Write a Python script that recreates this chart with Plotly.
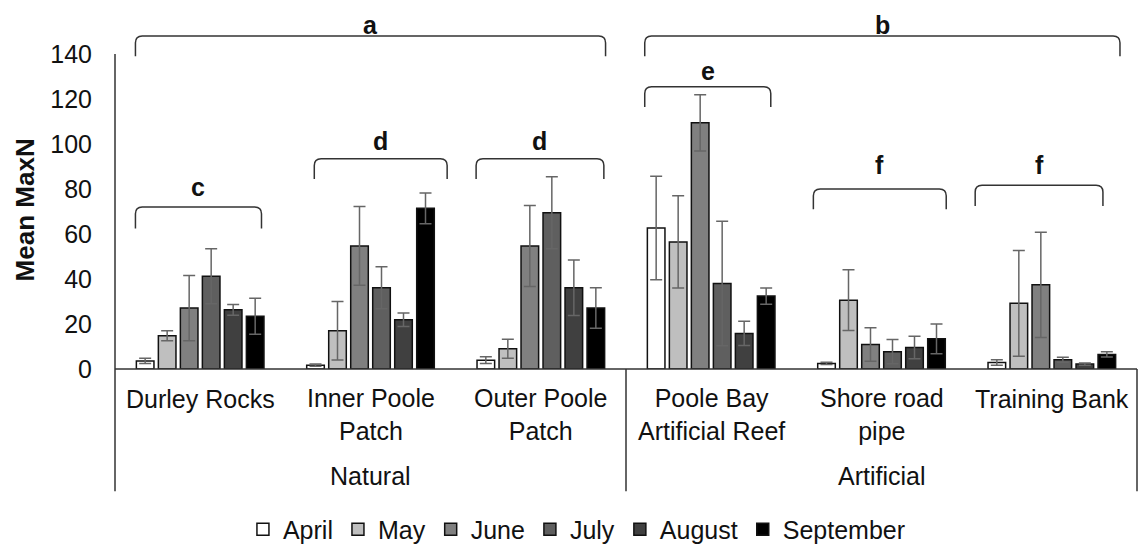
import plotly.graph_objects as go

sites = ["Durley Rocks", "Inner Poole<br>Patch", "Outer Poole<br>Patch",
         "Poole Bay<br>Artificial Reef", "Shore road<br>pipe", "Training Bank"]
groups = ["Natural", "Artificial"]
group_centers = [1, 4]
months = ["April", "May", "June", "July", "August", "September"]
colors = ["#ffffff", "#bfbfbf", "#808080", "#5f5f5f", "#404040", "#000000"]

april = [3.6, 1.7, 3.9, 62.7, 2.5, 2.9]
may = [14.8, 17.0, 9.0, 56.5, 30.6, 29.2]
june = [27.1, 54.7, 54.7, 109.4, 10.9, 37.4]
july = [41.2, 36.1, 69.5, 38.0, 7.7, 4.1]
august = [26.3, 21.9, 36.1, 15.8, 9.6, 2.2]
september = [23.4, 71.4, 27.1, 32.4, 13.4, 6.5]

april_err = [1.2, 0.5, 1.5, 23.0, 0.5, 1.2]
may_err = [2.2, 13.0, 4.2, 20.5, 13.5, 23.5]
june_err = [14.5, 17.5, 18.0, 12.5, 7.4, 23.4]
july_err = [12.2, 9.3, 16.0, 27.7, 5.4, 1.1]
august_err = [2.4, 3.0, 12.3, 5.4, 5.0, 0.5]
september_err = [8.0, 6.8, 9.0, 3.6, 6.6, 1.2]

values = [april, may, june, july, august, september]
errors = [april_err, may_err, june_err, july_err, august_err, september_err]

# brackets: (label, x start, x end, y top, y end-bottom, label y)
brackets = [
    ("a", -0.38, 2.38, 148, 139, 153),
    ("b", 2.61, 5.40, 148, 139, 153),
    ("c", -0.38, 0.36, 72, 62.5, 81),
    ("d", 0.67, 1.45, 93.5, 84.5, 101.5),
    ("d", 1.62, 2.37, 93.5, 84.5, 101.5),
    ("e", 2.61, 3.35, 125.5, 116.5, 132.5),
    ("f", 3.60, 4.38, 80, 71, 90.5),
    ("f", 4.55, 5.30, 81.7, 72.5, 90.5),
]

FONT = "Liberation Sans, Arial, sans-serif"
FS = 25
x = list(range(len(sites)))

# pixel helpers for layout below the plot area (plot area: y 9..377 px)
PLOT_TOP, PLOT_BOTTOM = 9, 377
def py(p):
    return (PLOT_BOTTOM - p) / (PLOT_BOTTOM - PLOT_TOP)

fig = go.Figure()
for m, c, v, e in zip(months, colors, values, errors):
    fig.add_trace(go.Bar(
        x=x, y=v, name=m,
        marker=dict(color=c, line=dict(color="#111111", width=1.5)),
        error_y=dict(type="data", array=e, visible=True, color="#666666",
                     thickness=1.5, width=6),
    ))

shapes = []
annotations = []
for lab, x0, x1, yt, yb, yl in brackets:
    rx = 0.04
    ry = 3
    path = (f"M {x0},{yb} L {x0},{yt - ry} Q {x0},{yt} {x0 + rx},{yt} "
            f"L {x1 - rx},{yt} Q {x1},{yt} {x1},{yt - ry} L {x1},{yb}")
    shapes.append(dict(type="path", path=path, xref="x", yref="y",
                       line=dict(color="#333333", width=1.5)))
    annotations.append(dict(x=(x0 + x1) / 2, y=yl, xref="x", yref="y",
                            text=f"<b>{lab}</b>", showarrow=False,
                            font=dict(size=FS, color="#111111", family=FONT)))

LINE = dict(color="#333333", width=1.5)
# y axis line (0..140) continuing down as the left separator
shapes.append(dict(type="line", xref="paper", yref="paper", x0=0, x1=0,
                   y0=140 / 160, y1=py(502), line=LINE))
# x axis line
shapes.append(dict(type="line", xref="paper", yref="paper", x0=0, x1=1,
                   y0=0, y1=0, line=LINE))
for sx in [0.5, 1.0]:
    shapes.append(dict(type="line", xref="paper", yref="paper", x0=sx, x1=sx,
                       y0=0, y1=py(502), line=LINE))

for i, s in enumerate(sites):
    nlines = s.count("<br>") + 1
    yc = 408 if nlines == 1 else 423
    annotations.append(dict(x=i, y=py(yc), xref="x", yref="paper", text=s,
                            showarrow=False, yanchor="middle", align="center",
                            font=dict(size=FS, color="#111111", family=FONT)))
for g, gc in zip(groups, group_centers):
    annotations.append(dict(x=gc, y=py(486), xref="x", yref="paper", text=g,
                            showarrow=False, yanchor="middle",
                            font=dict(size=FS, color="#111111", family=FONT)))

annotations.append(dict(x=(25 - 115) / 1022, y=70.5, xref="paper", yref="y",
                        text="<b>Mean MaxN</b>", showarrow=False, textangle=-90,
                        xanchor="center", yanchor="middle",
                        font=dict(size=26, color="#111111", family=FONT)))

fig.update_layout(
    width=1139, height=554,
    margin=dict(l=115, r=2, t=PLOT_TOP, b=554 - PLOT_BOTTOM),
    plot_bgcolor="white", paper_bgcolor="white",
    barmode="group", bargap=0.225, bargroupgap=0.2,
    font=dict(family=FONT, size=FS, color="#111111"),
    xaxis=dict(range=[-0.5, 5.5], showticklabels=False, showgrid=False,
               zeroline=False, showline=False, ticks=""),
    yaxis=dict(range=[0, 160], tickvals=[0, 20, 40, 60, 80, 100, 120, 140],
               showgrid=False, zeroline=False, showline=False, ticks="",
               ticklabelstandoff=22, tickfont=dict(size=FS, family=FONT, color="#111111")),
    legend=dict(orientation="h", x=0.452, xanchor="center", y=py(541), yanchor="middle",
                font=dict(size=FS, family=FONT, color="#111111"),
                itemwidth=30, traceorder="normal"),
    shapes=shapes,
    annotations=annotations,
)

fig.write_html("out.html")
